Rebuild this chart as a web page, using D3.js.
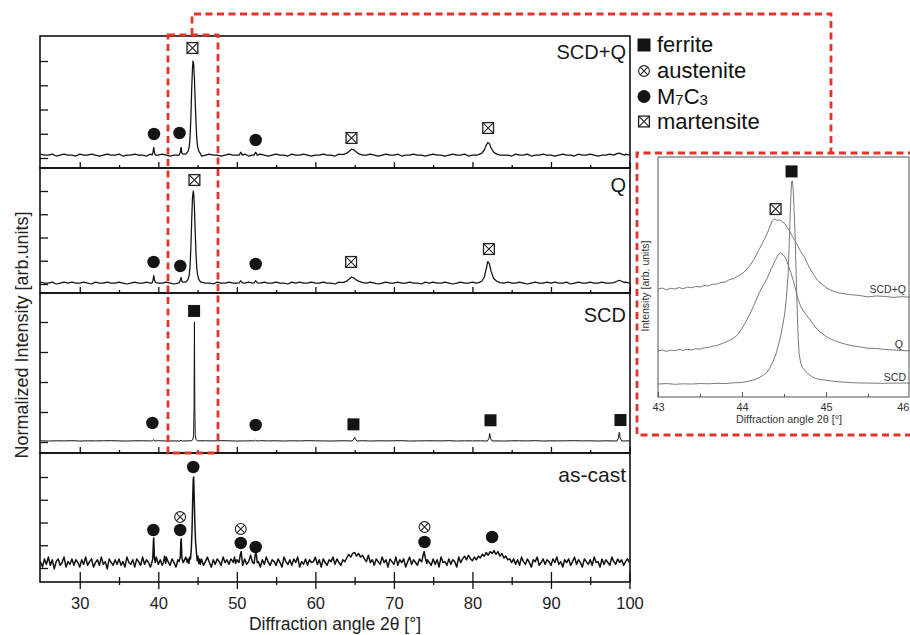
<!DOCTYPE html>
<html><head><meta charset="utf-8">
<script src="https://cdn.jsdelivr.net/npm/d3@7/dist/d3.min.js"></script>
<style>html,body{margin:0;padding:0;background:#fff;overflow:hidden}</style>
</head><body>
<svg id="chart" width="910" height="635"></svg>
<script>
// ---------------- DATA ----------------
const xMajorTicks = [30,40,50,60,70,80,90,100];
const xMinorTicks = [35,45,55,65,75,85,95];
const yTicks = [0,0.25,0.5,0.75,1];
const insetMajorTicks = [43,44,45,46];
const insetMinorTicks = [43.5,44.5,45.5];
const panelNames = ["SCD+Q","Q","SCD","as-cast"];
const legendPhases = ["ferrite","austenite","M7C3","martensite"];

// baselines (intensity in 0.01 units) sampled from 25° on a regular grid
const scdqBase = [4,3,3,4,2,3,4,3,3,2, 4,3,3,4,3,2,3,4,3,3, 4,2,3,3,4,3,3,2,4,3, 3,4,3,2,3,3,4,3,3,4, 3,2,3,4,3,3,2,3,4,3,
 3,3,4,2,3,3,4,3,2,3, 4,3,3,2,4,3,3,4,3,2, 3,3,4,3,3,2,4,3,3,3, 4,2,3,3,4,3,2,3,4,3, 3,4,2,3,3,4,3,3,2,3,
 4,3,3,2,3,4,3,3,4,2, 3,3,4,3,2,3,3,4,3,3, 2,4,3,3,4,2,3,3,4,3, 3,2,3,4,3,3,2,4,3,3, 4,3,2,3,3,4,3,3,2,4, 3];
const qBase = [2,1,1,2,0,1,2,1,2,1, 1,2,1,0,2,1,1,2,1,1, 2,1,0,1,2,1,1,2,1,2, 1,1,2,1,0,1,2,1,1,2, 1,2,1,1,0,2,1,1,2,1,
 1,2,1,2,1,0,1,2,1,1, 2,1,1,0,2,1,2,1,1,2, 1,1,2,1,1,0,2,1,1,2, 1,2,1,1,2,1,0,1,2,1, 1,2,1,1,2,1,1,0,2,1,
 2,1,1,2,1,0,1,2,1,1, 2,1,2,1,1,0,1,2,1,2, 1,1,2,1,0,1,2,1,1,2, 1,2,1,1,2,0,1,2,1,1, 2,1,1,2,1,1,0,2,1,2, 1];
const scdBase = [1,0.8,1,0.9,1.1,0.8,1,0.9,1,1.1, 0.9,0.8,1,1,0.9,1.1,0.8,0.9,1,1, 0.8,1,0.9,1.1,1,0.8,0.9,1,1.1,0.9,
 1,0.8,1,0.9,1.1,1,0.9,0.8,1,1, 0.9,1.1,0.8,1,0.9,1,1.1,0.8,0.9,1, 1,0.9,1.1,0.8,1,0.9,1,1.1,0.9,0.8,
 1,1,0.9,1.1,0.8,1,0.9,1,1.1,0.9, 1,0.8,1,0.9,1.1,1];
const asCastBase = [
 7,1,10,4,12,3,9,-1,7,10,3,6,12,1,7,4,10,3,9,6,
 1,9,4,12,3,7,10,1,6,9,3,12,4,7,-1,10,6,3,9,4,
 10,3,7,1,12,6,4,9,1,10,7,3,12,4,9,6,1,10,7,12,
 4,9,3,10,12,7,3,10,6,1,9,4,10,7,12,6,9,12,10,7,
 9,4,10,3,7,12,6,1,9,4,10,7,3,12,6,9,4,10,7,3,
 9,6,12,3,10,4,7,14,6,3,10,7,1,9,4,12,6,3,9,7,
 3,10,6,1,12,7,4,9,3,10,6,12,1,7,4,10,3,9,6,7,
 12,4,9,1,10,6,3,9,7,12,4,10,6,3,9,7,11,15,12,16,
 17,13,16,12,14,10,7,14,6,9,3,10,7,4,12,6,9,1,10,7,
 4,12,3,9,6,10,1,7,12,4,9,6,3,10,7,4,12,9,6,3,
 10,4,9,1,12,6,7,3,10,4,9,7,1,12,6,10,13,9,14,10,
 8,12,9,13,11,15,13,17,14,18,16,19,15,18,13,16,11,13,9,10,
 6,10,4,9,3,12,7,4,10,6,1,9,7,12,3,6,10,4,9,7,
 3,10,6,12,4,7,1,9,6,10,3,7,12,4,9,6,1,10,7,4,
 9,3,12,6,7,1,10,4,9,6,3,12,7,4,10,6,9,3,7,10,
 6];

// peaks: [2theta, normalized intensity]
const scdqPeaks = [
 [[39.2,0.03],[39.33,0.06],[39.42,0.11],[39.52,0.05],[39.65,0.03]],
 [[42.65,0.03],[42.8,0.06],[42.9,0.11],[43.0,0.05],[43.15,0.04]],
 [[43.5,0.04],[43.8,0.07],[43.95,0.12],[44.05,0.22],[44.15,0.42],[44.25,0.7],[44.35,0.92],[44.42,1.0],[44.5,0.97],[44.6,0.82],[44.7,0.58],[44.8,0.36],[44.9,0.2],[45.0,0.12],[45.15,0.07],[45.4,0.04]],
 [[50.3,0.03],[50.5,0.06],[50.7,0.03]],
 [[52.2,0.03],[52.4,0.06],[52.6,0.03]],
 [[63.5,0.035],[64.0,0.05],[64.3,0.07],[64.6,0.09],[64.8,0.09],[65.1,0.07],[65.5,0.045],[66.0,0.03]],
 [[80.8,0.035],[81.2,0.05],[81.5,0.08],[81.75,0.13],[81.95,0.16],[82.15,0.15],[82.4,0.1],[82.7,0.06],[83.1,0.04],[83.5,0.03]],
 [[98.0,0.03],[98.4,0.045],[98.7,0.05],[99.0,0.04],[99.4,0.03]]
];
const qPeaks = [
 [[39.2,0.01],[39.33,0.04],[39.42,0.09],[39.52,0.04],[39.65,0.015]],
 [[42.65,0.015],[42.8,0.04],[42.9,0.07],[43.0,0.03],[43.15,0.02]],
 [[43.5,0.02],[43.8,0.05],[43.95,0.1],[44.05,0.2],[44.15,0.4],[44.25,0.68],[44.35,0.92],[44.45,1.0],[44.52,0.96],[44.6,0.82],[44.7,0.56],[44.8,0.33],[44.9,0.17],[45.0,0.1],[45.15,0.05],[45.4,0.02]],
 [[50.3,0.012],[50.5,0.035],[50.7,0.012]],
 [[52.2,0.012],[52.4,0.035],[52.6,0.012]],
 [[63.5,0.015],[64.0,0.03],[64.3,0.055],[64.6,0.075],[64.8,0.07],[65.1,0.05],[65.5,0.03],[66.0,0.015]],
 [[80.8,0.015],[81.2,0.03],[81.5,0.07],[81.75,0.16],[81.95,0.24],[82.15,0.22],[82.4,0.13],[82.7,0.06],[83.1,0.03],[83.5,0.015]],
 [[98.0,0.015],[98.4,0.03],[98.7,0.04],[99.0,0.03],[99.4,0.015]]
];
const scdPeaks = [
 [[39.25,0.008],[39.4,0.02],[39.55,0.008]],
 [[42.75,0.008],[42.9,0.016],[43.05,0.008]],
 [[44.2,0.01],[44.4,0.02],[44.5,0.06],[44.55,0.3],[44.6,1.0],[44.65,0.3],[44.7,0.06],[44.8,0.02],[45.0,0.01]],
 [[52.25,0.008],[52.4,0.018],[52.55,0.008]],
 [[64.7,0.008],[64.9,0.025],[65.0,0.04],[65.1,0.025],[65.3,0.008]],
 [[81.9,0.008],[82.1,0.03],[82.2,0.07],[82.3,0.03],[82.5,0.008]],
 [[98.4,0.008],[98.6,0.035],[98.7,0.08],[98.8,0.035],[99.0,0.008]]
];
const asCastPeaks = [
 [[39.15,0.05],[39.3,0.1],[39.38,0.3],[39.42,0.33],[39.5,0.12],[39.6,0.06]],
 [[40.65,0.06],[40.8,0.13],[40.95,0.05]],
 [[42.65,0.07],[42.8,0.12],[42.88,0.3],[42.92,0.32],[43.0,0.12],[43.15,0.06]],
 [[43.7,0.06],[43.8,0.1],[43.9,0.05],[44.0,0.12],[44.1,0.1],[44.2,0.2],[44.3,0.42],[44.38,0.75],[44.45,0.97],[44.5,1.0],[44.56,0.82],[44.65,0.5],[44.75,0.28],[44.85,0.18],[44.95,0.08],[45.05,0.13],[45.15,0.05],[45.25,0.1],[45.35,0.04],[45.45,0.08]],
 [[49.55,0.06],[49.7,0.12],[49.85,0.05]],
 [[50.3,0.07],[50.45,0.15],[50.55,0.18],[50.7,0.06]],
 [[52.2,0.05],[52.35,0.15],[52.45,0.17],[52.6,0.06]],
 [[73.55,0.07],[73.75,0.15],[73.85,0.18],[74.05,0.09],[74.2,0.05]]
];

// phase markers: [phase, 2theta, level]
const scdqMarkers = [["martensite",44.35,1.134],["M7C3",39.45,0.247],["M7C3",42.7,0.258],["M7C3",52.4,0.186],["martensite",64.6,0.206],["martensite",82.0,0.309]];
const qMarkers = [["martensite",44.6,1.118],["M7C3",39.4,0.237],["M7C3",42.8,0.194],["M7C3",52.4,0.215],["martensite",64.55,0.237],["martensite",82.1,0.376]];
const scdMarkers = [["ferrite",44.56,1.092],["M7C3",39.25,0.158],["M7C3",52.4,0.142],["ferrite",64.85,0.147],["ferrite",82.3,0.181],["ferrite",98.85,0.183]];
const asCastMarkers = [["M7C3",44.45,1.11],["M7C3",39.37,0.418],["M7C3",42.78,0.418],["austenite",42.78,0.56],["austenite",50.5,0.429],["M7C3",50.5,0.275],["M7C3",52.4,0.231],["austenite",73.9,0.45],["M7C3",73.9,0.286],["M7C3",82.5,0.341]];

// inset (43-46°) intensities, arb. units
const insetSCDQ = [[43.00,45.0],[43.05,45.4],[43.10,44.7],[43.15,45.3],[43.20,45.0],[43.25,45.6],[43.30,45.1],[43.35,45.8],[43.40,45.5],[43.45,46.1],[43.50,45.8],[43.55,46.4],[43.60,46.3],[43.65,47.0],[43.70,47.0],[43.75,47.8],[43.80,47.9],[43.85,48.9],[43.90,49.3],[43.95,50.4],[44.00,51.3],[44.05,53.0],[44.10,55.0],[44.15,57.8],[44.20,61.2],[44.25,64.5],[44.30,68.2],[44.33,70.8],[44.36,73.5],[44.39,74.2],[44.42,73.5],[44.45,73.9],[44.48,73.0],[44.51,72.2],[44.54,70.6],[44.57,68.9],[44.60,67.0],[44.65,64.0],[44.70,60.5],[44.75,57.8],[44.80,54.0],[44.85,51.2],[44.90,48.6],[44.95,47.0],[45.00,45.6],[45.05,44.6],[45.10,44.0],[45.15,43.4],[45.20,43.1],[45.30,42.6],[45.40,42.3],[45.50,41.7],[45.60,42.1],[45.70,41.9],[45.80,41.5],[45.90,41.8],[46.00,41.6]];
const insetQ = [[43.00,19.2],[43.05,19.6],[43.10,19.0],[43.15,19.5],[43.20,19.3],[43.25,19.8],[43.30,19.4],[43.35,19.9],[43.40,19.6],[43.45,20.1],[43.50,19.9],[43.55,20.5],[43.60,20.6],[43.65,21.2],[43.70,21.4],[43.75,22.1],[43.80,22.8],[43.85,23.6],[43.90,24.5],[43.95,26.0],[44.00,28.6],[44.05,31.6],[44.10,35.0],[44.15,38.9],[44.20,43.0],[44.25,46.4],[44.30,49.5],[44.35,53.6],[44.40,57.2],[44.43,59.3],[44.46,60.0],[44.49,59.3],[44.52,57.8],[44.55,55.0],[44.58,52.0],[44.61,48.6],[44.64,44.5],[44.67,40.6],[44.70,37.6],[44.75,34.9],[44.80,32.6],[44.85,30.2],[44.90,28.0],[44.95,26.6],[45.00,25.2],[45.05,24.3],[45.10,23.5],[45.20,22.3],[45.30,21.4],[45.40,20.9],[45.50,20.3],[45.60,20.2],[45.70,19.8],[45.80,19.6],[45.90,19.4],[46.00,19.2]];
const insetSCD = [[43.00,5.4],[43.10,5.6],[43.20,5.3],[43.30,5.5],[43.40,5.4],[43.50,5.6],[43.60,5.5],[43.70,5.7],[43.80,5.6],[43.90,5.9],[44.00,6.1],[44.07,6.5],[44.13,7.0],[44.19,7.8],[44.24,8.8],[44.29,10.0],[44.33,12.0],[44.37,14.8],[44.41,18.5],[44.45,23.8],[44.48,29.0],[44.51,35.0],[44.53,42.0],[44.55,51.5],[44.56,62.0],[44.57,72.4],[44.58,82.0],[44.59,89.7],[44.60,90.0],[44.61,86.0],[44.62,78.0],[44.63,70.0],[44.64,57.0],[44.65,44.6],[44.66,33.0],[44.67,24.0],[44.68,18.0],[44.70,14.0],[44.72,12.3],[44.75,11.0],[44.78,9.8],[44.82,8.8],[44.86,7.9],[44.90,7.5],[44.95,7.2],[45.00,7.0],[45.10,6.5],[45.20,6.2],[45.35,5.9],[45.50,5.8],[45.70,5.7],[45.85,5.8],[46.00,5.8]];
const insetMarkers = [["martensite",44.40,78.3],["ferrite",44.59,94]];

// ---------------- DRAWING ----------------
const FONT = "Arial, 'Liberation Sans', sans-serif";
const svg = d3.select("#chart").style("font-family", FONT);
svg.append("rect").attr("width",910).attr("height",635).attr("fill","#fff");

const x = d3.scaleLinear().domain([25,100]).range([40.5,629.5]);
const frameL = 40, frameR = 630;

const layout = [
 {top:36, bottom:168, zeroY:158, oneY:61, labelY:59, labelSize:20},
 {top:168, bottom:293, zeroY:284, oneY:191, labelY:192, labelSize:20},
 {top:293, bottom:453, zeroY:442, oneY:322, labelY:322, labelSize:20},
 {top:453, bottom:582, zeroY:568, oneY:477, labelY:482, labelSize:21}
];
const series = [
 {base:scdqBase, step:0.5, peaks:scdqPeaks, markers:scdqMarkers, width:1.25},
 {base:qBase, step:0.5, peaks:qPeaks, markers:qMarkers, width:1.25},
 {base:scdBase, step:1, peaks:scdPeaks, markers:scdMarkers, width:1},
 {base:asCastBase, step:0.25, peaks:asCastPeaks, markers:asCastMarkers, width:1.5}
];

function buildSeries(base, step, peaks){
  let pts = base.map((v,i)=>[25+i*step, v/100]);
  peaks.forEach(pk=>{
    const a = pk[0][0], b = pk[pk.length-1][0];
    pts = pts.filter(p=>p[0]<a || p[0]>b).concat(pk);
  });
  return pts.sort((p,q)=>p[0]-q[0]);
}

function drawMarker(g, type, cx, cy, s){
  const h = s/2;
  if(type==="ferrite"){
    g.append("rect").attr("x",cx-h).attr("y",cy-h).attr("width",s).attr("height",s).attr("fill","#141414");
  } else if(type==="M7C3"){
    g.append("circle").attr("cx",cx).attr("cy",cy).attr("r",h).attr("fill","#141414");
  } else if(type==="austenite"){
    const r = h-0.6;
    g.append("circle").attr("cx",cx).attr("cy",cy).attr("r",r).attr("fill","#fff").attr("stroke","#222").attr("stroke-width",1.1);
    const d = r*0.7071;
    g.append("path").attr("d",`M${cx-d},${cy-d}L${cx+d},${cy+d}M${cx-d},${cy+d}L${cx+d},${cy-d}`).attr("stroke","#222").attr("stroke-width",1.1);
  } else if(type==="martensite"){
    const k = h-0.6;
    g.append("rect").attr("x",cx-k).attr("y",cy-k).attr("width",2*k).attr("height",2*k).attr("fill","#fff").attr("stroke","#222").attr("stroke-width",1.3);
    g.append("path").attr("d",`M${cx-k},${cy-k}L${cx+k},${cy+k}M${cx-k},${cy+k}L${cx+k},${cy-k}`).attr("stroke","#222").attr("stroke-width",1.1);
  }
}

layout.forEach((L,i)=>{
  const S = series[i];
  const y = d3.scaleLinear().domain([0,1]).range([L.zeroY, L.oneY]);
  const g = svg.append("g");
  const clipId = "clip"+i;
  svg.append("clipPath").attr("id",clipId).append("rect")
    .attr("x",frameL).attr("y",L.top).attr("width",frameR-frameL).attr("height",L.bottom-L.top);
  const pts = buildSeries(S.base, S.step, S.peaks);
  const line = d3.line().x(d=>x(d[0])).y(d=>y(d[1]));
  g.append("path").datum(pts).attr("d",line).attr("fill","none")
    .attr("stroke","#111").attr("stroke-width",S.width).attr("stroke-linejoin","round")
    .attr("clip-path",`url(#${clipId})`);
  const ya = g.append("g").attr("transform",`translate(${frameL},0)`)
    .call(d3.axisRight(y).tickValues(yTicks).tickSize(8).tickFormat(""));
  ya.select(".domain").remove();
  ya.selectAll("line").attr("stroke","#111").attr("stroke-width",1.3);
  const isBottom = i===layout.length-1;
  const up1 = g.append("g").attr("transform",`translate(0,${L.bottom})`)
    .call(d3.axisTop(x).tickValues(xMajorTicks).tickSize(isBottom?10:6).tickFormat(""));
  const up2 = g.append("g").attr("transform",`translate(0,${L.bottom})`)
    .call(d3.axisTop(x).tickValues(xMinorTicks).tickSize(isBottom?5:3).tickFormat(""));
  [up1,up2].forEach(a=>{a.select(".domain").remove(); a.selectAll("line").attr("stroke","#111").attr("stroke-width",1.3);});
  if(isBottom){
    const dn1 = g.append("g").attr("transform",`translate(0,${L.bottom})`)
      .call(d3.axisBottom(x).tickValues(xMajorTicks).tickSize(7).tickPadding(8).tickFormat(d3.format("d")));
    const dn2 = g.append("g").attr("transform",`translate(0,${L.bottom})`)
      .call(d3.axisBottom(x).tickValues(xMinorTicks).tickSize(3).tickFormat(""));
    [dn1,dn2].forEach(a=>{a.select(".domain").remove(); a.selectAll("line").attr("stroke","#111").attr("stroke-width",1.3);});
    dn1.selectAll("text").attr("font-size","16.5px").attr("font-family",FONT).attr("fill","#222");
  }
  g.append("rect").attr("x",frameL).attr("y",L.top).attr("width",frameR-frameL).attr("height",L.bottom-L.top)
    .attr("fill","none").attr("stroke","#111").attr("stroke-width",1.6);
  g.append("text").attr("x",626).attr("y",L.labelY).attr("text-anchor","end")
    .attr("font-size",L.labelSize+"px").attr("fill","#1a1a1a").text(panelNames[i]);
  S.markers.forEach(m=>drawMarker(g, m[0], x(m[1]), y(m[2]), m[0]==="M7C3"?12.5:12));
});

svg.append("text").attr("x",335).attr("y",630).attr("text-anchor","middle")
  .attr("font-size","17.5px").attr("fill","#222").text("Diffraction angle 2θ [°]");
svg.append("text").attr("transform","translate(28,335) rotate(-90)").attr("text-anchor","middle")
  .attr("font-size","18px").attr("fill","#222").text("Normalized Intensity [arb.units]");

// legend
const legY = [45,71,96.5,121.5];
const legG = svg.append("g");
legendPhases.forEach((p,i)=>{
  drawMarker(legG, p, 644, legY[i], p==="ferrite"?13:(p==="M7C3"?13:12));
  const t = legG.append("text").attr("x",657).attr("y",legY[i]+7).attr("font-size","22px").attr("fill","#111");
  if(p==="M7C3"){
    t.append("tspan").text("M");
    t.append("tspan").attr("font-size","15px").attr("dy",1).text("7");
    t.append("tspan").attr("dy",-1).text("C");
    t.append("tspan").attr("font-size","15px").attr("dy",1).text("3");
  } else t.text(p);
});

// inset
const ix = d3.scaleLinear().domain([43,46]).range([658,910]);
const iy = d3.scaleLinear().domain([0,100]).range([397,157]);
const ig = svg.append("g");
svg.append("clipPath").attr("id","iclip").append("rect").attr("x",658).attr("y",157).attr("width",252).attr("height",240);
const iline = d3.line().x(d=>ix(d[0])).y(d=>iy(d[1]));
[insetSCDQ, insetQ, insetSCD].forEach(dat=>{
  ig.append("path").datum(dat).attr("d",iline).attr("fill","none").attr("stroke","#7a7a7a")
    .attr("stroke-width",1).attr("clip-path","url(#iclip)");
});
ig.append("rect").attr("x",658).attr("y",157).attr("width",251).attr("height",240)
  .attr("fill","none").attr("stroke","#555").attr("stroke-width",1);
const ia1 = ig.append("g").attr("transform","translate(0,397)")
  .call(d3.axisTop(ix).tickValues(insetMajorTicks).tickSize(5).tickFormat(""));
const ia2 = ig.append("g").attr("transform","translate(0,397)")
  .call(d3.axisTop(ix).tickValues(insetMinorTicks).tickSize(3).tickFormat(""));
[ia1,ia2].forEach(a=>{a.select(".domain").remove(); a.selectAll("line").attr("stroke","#555");});
const ia3 = ig.append("g").attr("transform","translate(0,397)")
  .call(d3.axisBottom(ix).tickValues(insetMajorTicks).tickSize(0).tickPadding(6).tickFormat(d3.format("d")));
ia3.select(".domain").remove();
ia3.selectAll("text").attr("font-size","11px").attr("font-family",FONT).attr("fill","#333");
ia3.selectAll("text").filter(d=>d===46).attr("text-anchor","end").attr("x",-1);
ig.append("text").attr("x",789).attr("y",423).attr("text-anchor","middle").attr("font-size","10.8px").attr("fill","#333")
  .text("Diffraction angle 2θ [°]");
ig.append("text").attr("transform","translate(649,286) rotate(-90)").attr("text-anchor","middle")
  .attr("font-size","10.5px").attr("fill","#333").text("Intensity [arb. units]");
const insetLabels = [["SCD+Q",906,293],["Q",903,348],["SCD",906,381]];
insetLabels.forEach(l=>ig.append("text").attr("x",l[1]).attr("y",l[2]).attr("text-anchor","end")
  .attr("font-size","10.5px").attr("fill","#333").text(l[0]));
insetMarkers.forEach(m=>drawMarker(ig, m[0], ix(m[1]), iy(m[2]), 12));

// red dashed highlight
const red = svg.append("g").attr("fill","none").attr("stroke","#e4332b").attr("stroke-width",2.8).attr("stroke-dasharray","7,4.5");
red.append("rect").attr("x",168).attr("y",35).attr("width",50).attr("height",418);
red.append("path").attr("d","M192,35V14H831V153");
red.append("path").attr("d","M915,153H637V435H915");
</script>
</body></html>
